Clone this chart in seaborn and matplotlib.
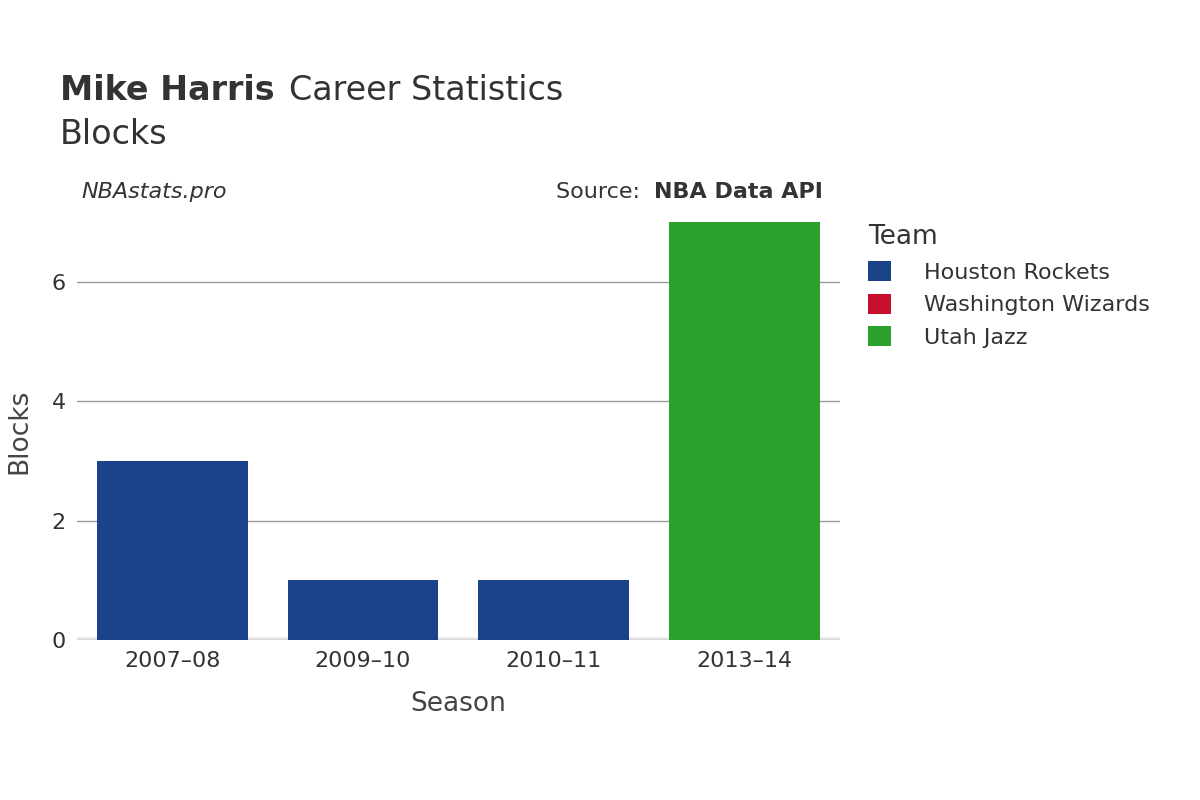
import matplotlib
matplotlib.use("Agg")
import matplotlib.pyplot as plt
import seaborn as sns
import pandas as pd
from matplotlib.patches import Patch

seasons = ["2007–08", "2009–10", "2010–11", "2013–14"]
teams = ["Houston Rockets", "Houston Rockets", "Houston Rockets", "Utah Jazz"]
blocks = [3, 1, 1, 7]
legend_teams = ["Houston Rockets", "Washington Wizards", "Utah Jazz"]
colors = {"Houston Rockets": "#1b4389", "Washington Wizards": "#c8102e", "Utah Jazz": "#2ca02c"}

df = pd.DataFrame({"Season": seasons, "Team": teams, "Blocks": blocks})

fig = plt.figure(figsize=(12, 8), dpi=100)
ax = fig.add_axes([0.064, 0.2, 0.636, 0.5225])
sns.barplot(data=df, x="Season", y="Blocks", hue="Team", palette=colors,
            dodge=False, width=0.79, ax=ax, legend=False, saturation=1)
ax.set_ylim(0, 7)
ax.set_xlim(-0.5, 3.5)
ax.set_yticks([0, 2, 4, 6])
ax.yaxis.grid(True, color="#999999", linewidth=1)
ax.set_axisbelow(True)
for s in ax.spines.values():
    s.set_visible(False)
ax.axhline(0, color="#e8e8ec", linewidth=4, zorder=0.5)
ax.tick_params(length=0, labelsize=16, colors="#333333", pad=8)
ax.set_xlabel("Season", fontsize=19, color="#444444", labelpad=14)
ax.set_ylabel("Blocks", fontsize=19, color="#444444", labelpad=14)

fig.text(0.05, 0.875, "Mike Harris", fontsize=24, fontweight="bold", color="#333333")
fig.text(0.241, 0.875, "Career Statistics", fontsize=24, color="#333333")
fig.text(0.05, 0.82, "Blocks", fontsize=24, color="#333333")
fig.text(0.068, 0.752, "NBAstats.pro", fontsize=16, style="italic", color="#333333")
fig.text(0.463, 0.752, "Source: ", fontsize=16, color="#333333")
fig.text(0.545, 0.752, "NBA Data API", fontsize=16, fontweight="bold", color="#333333")

handles = [Patch(facecolor=colors[t], label=t) for t in legend_teams]
leg = fig.legend(handles=handles, title="Team", loc="upper left", bbox_to_anchor=(0.707, 0.745),
                 frameon=False, fontsize=16, title_fontsize=19, handlelength=1, handleheight=1,
                 labelcolor="#333333", handletextpad=1.5, labelspacing=0.5)
leg.get_title().set_color("#333333")
leg._legend_box.align = "left"
fig.savefig("out.png", dpi=100, facecolor="white")
